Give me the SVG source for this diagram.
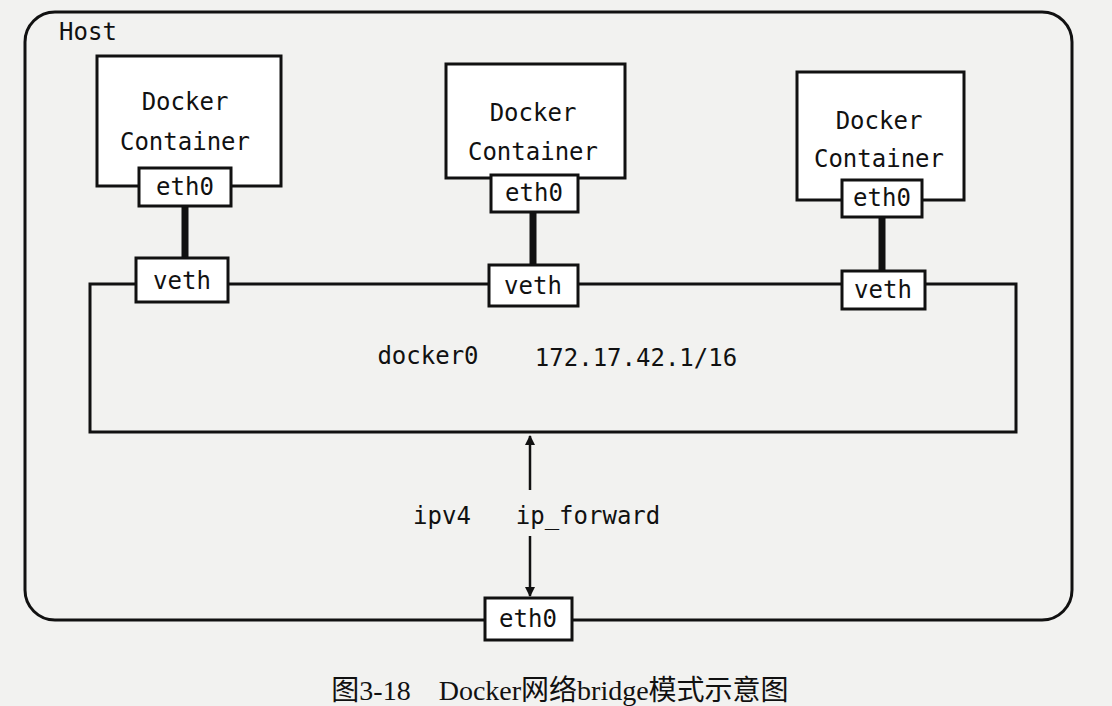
<svg xmlns="http://www.w3.org/2000/svg" width="1112" height="706" viewBox="0 0 1112 706">
<style>
.b{fill:#fff;stroke:#111;stroke-width:3}
.n{fill:none;stroke:#111;stroke-width:3}
.t{font-family:"DejaVu Sans Mono","Liberation Mono",monospace;font-size:24px;fill:#111;text-anchor:middle}
.cap{font-family:"Liberation Serif","Noto Sans CJK SC",serif;font-size:28px;fill:#111;text-anchor:middle;white-space:pre}
</style>
<defs><marker id="a" markerWidth="10" markerHeight="10" refX="9" refY="5" orient="auto" markerUnits="userSpaceOnUse"><path d="M0,0 L10,5 L0,10 z" fill="#111"/></marker></defs>
<rect width="1112" height="706" fill="#f2f2f0"/>
<g id="host"><rect x="25" y="12" width="1047" height="608" rx="30" class="n"/><text x="88" y="40" class="t">Host</text></g>
<g id="docker0"><rect x="90" y="284" width="926" height="148" class="n"/><text x="428" y="364" class="t">docker0</text><text x="636" y="366" class="t">172.17.42.1/16</text></g>
<g id="connectors">
<line x1="185" y1="206" x2="185" y2="258" stroke="#111" stroke-width="7"/>
<line x1="533" y1="212" x2="533" y2="265" stroke="#111" stroke-width="7"/>
<line x1="882" y1="217" x2="882" y2="271" stroke="#111" stroke-width="7"/>
<line x1="530" y1="490" x2="530" y2="436" stroke="#111" stroke-width="2.5" marker-end="url(#a)"/>
<line x1="530" y1="536" x2="530" y2="596" stroke="#111" stroke-width="2.5" marker-end="url(#a)"/>
</g>
<g id="c1"><rect x="97" y="56" width="184" height="130" class="b"/><text x="185" y="110" class="t">Docker</text><text x="185" y="150" class="t">Container</text></g>
<g id="c1eth0"><rect x="139" y="168" width="92" height="38" class="b"/><text x="185" y="195" class="t">eth0</text></g>
<g id="c2"><rect x="446" y="64" width="179" height="114" class="b"/><text x="533" y="121" class="t">Docker</text><text x="533" y="160" class="t">Container</text></g>
<g id="c2eth0"><rect x="491" y="175" width="87" height="37" class="b"/><text x="534" y="201" class="t">eth0</text></g>
<g id="c3"><rect x="797" y="72" width="167" height="128" class="b"/><text x="879" y="129" class="t">Docker</text><text x="879" y="167" class="t">Container</text></g>
<g id="c3eth0"><rect x="842" y="180" width="80" height="37" class="b"/><text x="882" y="206" class="t">eth0</text></g>
<g id="veth1"><rect x="136" y="258" width="92" height="44" class="b"/><text x="182" y="289" class="t">veth</text></g>
<g id="veth2"><rect x="489" y="265" width="89" height="41" class="b"/><text x="533" y="294" class="t">veth</text></g>
<g id="veth3"><rect x="842" y="271" width="83" height="38" class="b"/><text x="883" y="298" class="t">veth</text></g>
<text x="442" y="524" class="t">ipv4</text><text x="588" y="524" class="t">ip_forward</text>
<g id="eth0"><rect x="485" y="598" width="87" height="42" class="b"/><text x="528" y="627" class="t">eth0</text></g>
<text x="560" y="700" class="cap">图3-18    Docker网络bridge模式示意图</text>
</svg>
